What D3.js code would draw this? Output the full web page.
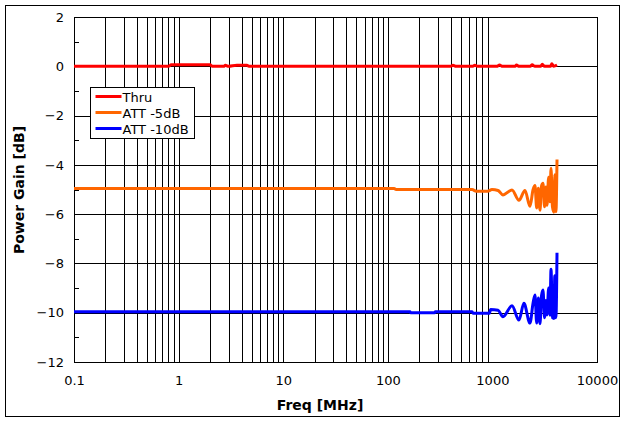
<!DOCTYPE html>
<html>
<head>
<meta charset="utf-8">
<script src="https://cdn.jsdelivr.net/npm/d3@7"></script>
<style>
  body { margin: 0; background: #fff; }
  text { font-family: "DejaVu Sans", Verdana, sans-serif; fill: #000; }
</style>
</head>
<body>
<div id="chart"></div>
<script>
// tick labels
var xTicks = [0.1, 1, 10, 100, 1000, 10000];
var yTicks = [2, 0, -2, -4, -6, -8, -10, -12];

// series values (freq in MHz, gain in dB)
var thruFreq = [0.1, 0.8, 0.85, 2.0, 2.1, 2.7, 2.8, 3.0, 3.6, 4.5, 4.7, 100, 400, 420, 450, 650, 680, 720, 1100, 1170, 1250, 1650, 1700, 1800, 2300, 2400, 2550, 2900, 3000, 3150, 3600, 3700, 3850, 4150];
var thruGain = [0, 0, 0.06, 0.06, 0, 0, 0.04, 0, 0.04, 0.04, 0, 0, 0, 0.04, 0, 0, 0.04, 0, 0, 0.05, 0, 0, 0.05, 0, 0, 0.06, 0, 0, 0.08, 0, 0, 0.1, 0, 0.05];

var att5Freq = [0.1, 115, 120, 640, 700, 900, 991, 1132, 1262, 1539, 1795, 2049, 2287, 2450, 2554, 2650, 2750, 2850, 2950, 3046, 3150, 3250, 3327, 3450, 3550, 3634, 3750, 3880, 3950, 4050, 4147];
var att5Gain = [-4.96, -4.96, -5.0, -5.0, -5.07, -5.07, -5.0, -5.04, -5.22, -5.02, -5.44, -5.04, -5.68, -5.0, -4.84, -5.75, -4.95, -5.84, -4.85, -4.75, -5.7, -4.9, -5.64, -4.5, -5.5, -4.14, -5.7, -5.92, -4.4, -5.9, -3.78];

var att10Freq = [0.1, 163, 165, 280, 285, 640, 653, 940, 960, 1132, 1262, 1539, 1795, 2000, 2287, 2450, 2554, 2650, 2750, 2850, 2950, 3046, 3150, 3250, 3327, 3450, 3550, 3634, 3750, 3880, 3950, 4050, 4147];
var att10Gain = [-9.96, -9.96, -10.0, -10.0, -9.96, -9.96, -10.02, -10.02, -9.87, -9.9, -10.16, -9.72, -10.3, -9.62, -10.42, -9.6, -9.28, -10.42, -9.4, -10.45, -9.3, -9.08, -10.2, -9.5, -10.09, -9.0, -10.1, -8.24, -10.2, -10.23, -8.5, -10.2, -7.57];

var seriesNames = ["Thru", "ATT -5dB", "ATT -10dB"];
var seriesColors = ["#ff0000", "#ff6600", "#0000ff"];

var W = 626, H = 422;
var margin = {top: 17, right: 29, bottom: 60, left: 74},
    width = 597 - margin.left,
    height = 362 - margin.top;

var svg = d3.select("#chart")
    .append("svg")
    .attr("width", W)
    .attr("height", H);

// outer frame
svg.append("rect")
    .attr("x", 5.5).attr("y", 5.5)
    .attr("width", 614).attr("height", 411)
    .attr("fill", "#fff")
    .attr("stroke", "#000")
    .attr("stroke-width", 1);

var g = svg.append("g")
    .attr("transform", "translate(" + margin.left + "," + margin.top + ")");

var x = d3.scaleLog()
    .domain([0.1, 10000])
    .range([0, width]);

var y = d3.scaleLinear()
    .domain([-12, 2])
    .range([height, 0]);

// vertical grid at every 1..9 of each decade
var vGrid = [];
for (var d = 0; d < 4; d++) {
    for (var m = 1; m < 10; m++) {
        var v = xTicks[d] * m;
        if (v > 0.1) vGrid.push(v);
    }
}
g.append("g")
    .selectAll("line")
    .data(vGrid)
    .enter()
    .append("line")
    .attr("x1", function(d) { return Math.round(x(d)) + 0.5; })
    .attr("x2", function(d) { return Math.round(x(d)) + 0.5; })
    .attr("y1", 0)
    .attr("y2", height)
    .attr("stroke", "#000");

// horizontal grid
g.append("g")
    .selectAll("line")
    .data(yTicks)
    .enter()
    .append("line")
    .attr("x1", 0)
    .attr("x2", width)
    .attr("y1", function(d) { return Math.round(y(d)) + 0.5; })
    .attr("y2", function(d) { return Math.round(y(d)) + 0.5; })
    .attr("stroke", "#000");

// minor y ticks
g.append("g")
    .selectAll("line")
    .data(d3.range(-11, 2, 2))
    .enter()
    .append("line")
    .attr("x1", 0)
    .attr("x2", 5)
    .attr("y1", function(d) { return Math.round(y(d)) + 0.5; })
    .attr("y2", function(d) { return Math.round(y(d)) + 0.5; })
    .attr("stroke", "#000");

// plot frame
g.append("rect")
    .attr("x", 0.5).attr("y", 0.5)
    .attr("width", width).attr("height", height)
    .attr("fill", "none")
    .attr("stroke", "#000");

// axes (labels only, grid drawn above)
var xAxis = g.append("g")
    .attr("transform", "translate(0," + height + ")")
    .call(d3.axisBottom(x).tickValues(xTicks).tickFormat(function(d) { return String(d); }).tickSize(0).tickPadding(14));
xAxis.select(".domain").remove();
xAxis.selectAll("text").style("font-size", "13px").attr("fill", "#111");

var yAxis = g.append("g")
    .call(d3.axisLeft(y).tickValues(yTicks).tickSize(0).tickPadding(10));
yAxis.select(".domain").remove();
yAxis.selectAll("text").style("font-size", "13px").attr("fill", "#111");

// lines
var line = d3.line()
    .curve(d3.curveMonotoneX)
    .x(function(d) { return x(d[0]); })
    .y(function(d) { return y(d[1]); });

var series = [
    d3.zip(thruFreq, thruGain),
    d3.zip(att5Freq, att5Gain),
    d3.zip(att10Freq, att10Gain)
];

g.append("g")
    .selectAll("path")
    .data(series)
    .enter()
    .append("path")
    .attr("d", line)
    .attr("fill", "none")
    .attr("stroke", function(d, i) { return seriesColors[i]; })
    .attr("stroke-width", 3)
    .attr("stroke-linejoin", "round");

// legend
var legend = svg.append("g")
    .attr("transform", "translate(90.5,87.5)");
legend.append("rect")
    .attr("width", 104)
    .attr("height", 51)
    .attr("fill", "#fff")
    .attr("stroke", "#000");
var item = legend.selectAll("g.item")
    .data(seriesNames)
    .enter()
    .append("g")
    .attr("class", "item")
    .attr("transform", function(d, i) { return "translate(0," + (9 + i * 16) + ")"; });
item.append("line")
    .attr("x1", 5).attr("x2", 31)
    .attr("stroke", function(d, i) { return seriesColors[i]; })
    .attr("stroke-width", 3);
item.append("text")
    .attr("x", 32)
    .attr("y", 5)
    .style("font-size", "13px")
    .text(function(d) { return d; });

// axis titles
svg.append("text")
    .attr("text-anchor", "middle")
    .attr("x", 320)
    .attr("y", 410)
    .style("font-size", "14px")
    .style("font-weight", "bold")
    .text("Freq [MHz]");

svg.append("text")
    .attr("text-anchor", "middle")
    .attr("transform", "translate(24,190) rotate(-90)")
    .style("font-size", "14px")
    .style("font-weight", "bold")
    .text("Power Gain [dB]");
</script>
</body>
</html>
